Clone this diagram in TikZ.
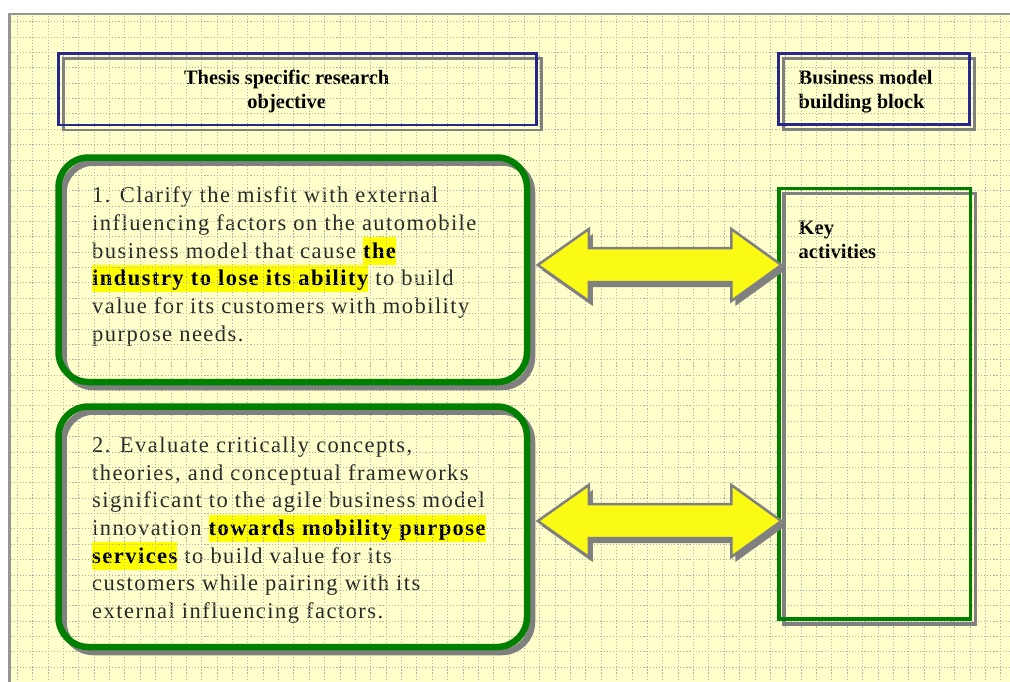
\documentclass[tikz,border=0pt]{standalone}
\usepackage{fontspec}
\setmainfont{Liberation Serif}
\newfontfamily\bodyfont{Liberation Serif}[LetterSpace=6.5]
\usetikzlibrary{calc}

\definecolor{paper}{RGB}{255,255,204}
\definecolor{framegray}{RGB}{150,150,150}
\definecolor{dotgray}{RGB}{175,175,168}
\definecolor{boxgreen}{RGB}{0,128,0}
\definecolor{boxblue}{RGB}{40,40,140}
\definecolor{shade}{RGB}{128,128,128}
\definecolor{hlyel}{RGB}{255,255,0}
\definecolor{arrowyel}{RGB}{250,250,20}
\definecolor{bodytext}{RGB}{40,40,40}

% highlighted, bold phrase
\newcommand{\hlmark}[1]{{\setlength{\fboxsep}{0pt}\colorbox{hlyel}{\rule[-6.5pt]{0pt}{27.5pt}\textbf{\color{black}#1}}}}

% double block arrow between two tip coordinates, optionally offset
\newcommand{\arrowoutline}[4]{%
 ($(#1)+(#3,#4)$) -- ($(#1)+(#3+51,#4-36)$) -- ($(#1)+(#3+51,#4-17)$) --
 ($(#2)+(#3-50,#4-17)$) -- ($(#2)+(#3-50,#4-36)$) -- ($(#2)+(#3,#4)$) --
 ($(#2)+(#3-50,#4+36)$) -- ($(#2)+(#3-50,#4+17)$) --
 ($(#1)+(#3+51,#4+17)$) -- ($(#1)+(#3+51,#4+36)$) -- cycle}

\tikzset{
  griddots/.style={draw=dotgray, line width=1.0pt, dash pattern=on 1.1pt off 1.97pt},
  objbox/.style={draw=boxgreen, line width=6.5pt, rounded corners=30pt, inner sep=0pt},
  objshadow/.style={objbox, draw=shade},
  headbox/.style={draw=boxblue, line width=2.8pt, inner sep=0pt},
  headshadow/.style={headbox, draw=shade},
  keyframe/.style={draw=boxgreen, line width=3.3pt, inner sep=0pt},
  keyshadow/.style={keyframe, draw=shade},
  bodyline/.style={anchor=base west, inner sep=0pt, text=bodytext,
    font=\bodyfont\fontsize{22.5}{27.7}\selectfont},
  headtext/.style={anchor=base, inner sep=0pt, font=\fontsize{20.5}{24}\selectfont\bfseries},
  headtextl/.style={headtext, anchor=base west},
  arrowbody/.style={fill=arrowyel, draw=shade, line width=2.5pt, line join=miter},
  arrowshadow/.style={fill=shade}
}

\begin{document}
\begin{tikzpicture}[x=1pt,y=-1pt]
\useasboundingbox (0,0) rectangle (1010,681);

% sheet with its frame
\fill[paper] (9.7,14) rectangle (1015,686);
\draw[framegray, line width=2.5pt] (9.7,686) -- (9.7,14) -- (1015,14);

% objective texts
\node[bodyline] (p1a) at (92,202.7) {1. Clarify the misfit with external};
\node[bodyline] (p1b) at (92,230.4) {influencing factors on the automobile};
\node[bodyline] (p1c) at (92,258.1) {business model that cause \hlmark{the}};
\node[bodyline] (p1d) at (92,285.8) {\hlmark{industry to lose its ability} to build};
\node[bodyline] (p1e) at (92,313.5) {value for its customers with mobility};
\node[bodyline] (p1f) at (92,341.2) {purpose needs.};

\node[bodyline] (p2a) at (92,452.7) {2. Evaluate critically concepts,};
\node[bodyline] (p2b) at (92,480.3) {theories, and conceptual frameworks};
\node[bodyline] (p2c) at (92,507.9) {significant to the agile business model};
\node[bodyline] (p2d) at (92,535.5) {innovation \hlmark{towards mobility purpose}};
\node[bodyline] (p2e) at (92,563.1) {\hlmark{services} to build value for its};
\node[bodyline] (p2f) at (92,590.7) {customers while pairing with its};
\node[bodyline] (p2g) at (92,618.3) {external influencing factors.};

% header texts
\node[headtext] (h1a) at (286.7,84.3) {Thesis specific research};
\node[headtext] (h1b) at (286.7,108.3) {objective};
\node[headtextl] (h2a) at (798.5,84.0) {Business model};
\node[headtextl] (h2b) at (798.5,108.3) {building block};
\node[headtextl] (k1) at (798.5,234.0) {Key};
\node[headtextl] (k2) at (798.5,258.3) {activities};

% dotted grid
\foreach \i in {0,...,64} {
  \pgfmathsetmacro{\gx}{17.3+15.37*\i}
  \draw[griddots] (\gx,15.5) -- (\gx,681);
}
\foreach \j in {0,...,42} {
  \pgfmathsetmacro{\gy}{21.7+15.37*\j}
  \draw[griddots] (11,\gy) -- (1010,\gy);
}

% header frames
\node[headshadow, minimum width=478.2pt, minimum height=71.5pt, xshift=5pt, yshift=-5pt] at (297.4,89.25) {};
\node[headbox, minimum width=478.2pt, minimum height=71.5pt] (thesis) at (297.4,89.25) {};
\node[headshadow, minimum width=191pt, minimum height=71pt, xshift=5pt, yshift=-5pt] at (874,89) {};
\node[headbox, minimum width=191pt, minimum height=71pt] (bmb) at (874,89) {};

% objective frames
\node[objshadow, minimum width=468.5pt, minimum height=224.5pt, xshift=5pt, yshift=-5pt] at (292.75,269.75) {};
\node[objbox, minimum width=468.5pt, minimum height=224.5pt] (obj1) at (292.75,269.75) {};
\node[objshadow, minimum width=468.5pt, minimum height=240.5pt, xshift=5pt, yshift=-5pt] at (292.75,526.75) {};
\node[objbox, minimum width=468.5pt, minimum height=240.5pt] (obj2) at (292.75,526.75) {};

% key activities frame
\node[keyshadow, minimum width=191.7pt, minimum height=430.7pt, xshift=5pt, yshift=-5pt] at (874.85,403.65) {};
\node[keyframe, minimum width=191.7pt, minimum height=430.7pt] (key) at (874.85,403.65) {};

% double arrows linking each objective to the key activities
\coordinate (a1L) at ($(obj1.east)+(7.5,-4.75)$);
\coordinate (a1R) at ($(key.west |- a1L)+(4,0)$);
\coordinate (a2L) at ($(obj2.east)+(7.5,-5.75)$);
\coordinate (a2R) at ($(key.west |- a2L)+(4,0)$);

\fill[arrowshadow] \arrowoutline{a1L}{a1R}{4}{5};
\filldraw[arrowbody] \arrowoutline{a1L}{a1R}{0}{0};
\fill[arrowshadow] \arrowoutline{a2L}{a2R}{4}{5};
\filldraw[arrowbody] \arrowoutline{a2L}{a2R}{0}{0};

\end{tikzpicture}
\end{document}
